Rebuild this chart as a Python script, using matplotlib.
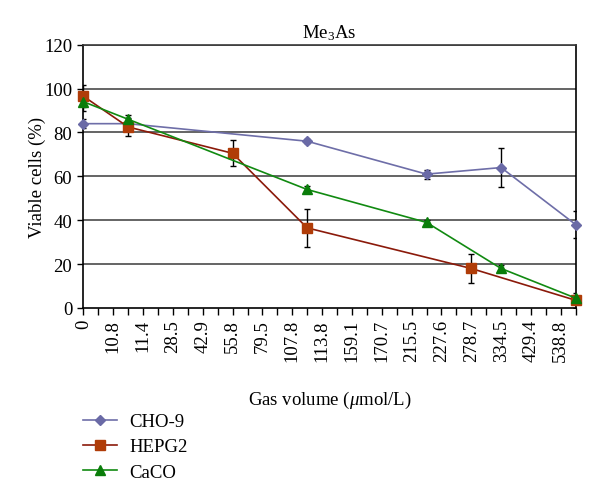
import matplotlib
matplotlib.use("Agg")
import matplotlib.pyplot as plt
from matplotlib.ticker import MultipleLocator

plt.rcParams['font.family'] = ['Liberation Serif', 'DejaVu Serif']
plt.rcParams['mathtext.fontset'] = 'custom'
plt.rcParams['mathtext.rm'] = 'Liberation Serif'
plt.rcParams['mathtext.it'] = 'Liberation Serif:italic'

# category labels on the x axis (one every second tick)
x_labels = ["0", "10.8", "11.4", "28.5", "42.9", "55.8", "79.5", "107.8", "113.8",
            "159.1", "170.7", "215.5", "227.6", "278.7", "334.5", "429.4", "538.8"]

# positions along the axis (in label units) and values
cho_x = [0, 1.5, 7.5, 11.5, 14, 16.5]
cho_y = [84, 84, 76, 61, 64, 38]
cho_err = [2, 1, 1, 2, 9, 6]

hep_x = [0, 1.5, 5, 7.5, 13, 16.5]
hep_y = [96.5, 82.5, 70.5, 36.5, 18, 3.5]
hep_err = [5, 4, 6, 8.5, 6.5, 3.5]

caco_x = [0, 1.5, 7.5, 11.5, 14, 16.5]
caco_y = [94, 86, 54, 39, 18, 4.5]
caco_err = [4, 2, 1.5, 1, 1.5, 1.5]

fig = plt.figure(figsize=(6, 5.02), dpi=100)
ax = fig.add_axes([0.139, 0.3845, 0.8205, 0.5245])

for y in range(20, 121, 20):
    ax.axhline(y, color='#3a3a3a', lw=1.1, zorder=1)

fs = 13.5

def series(x, y, err, line_col, mark_col, marker, ms, label):
    ax.errorbar(x, y, yerr=err, fmt='none', ecolor='black', elinewidth=1.0,
                capsize=2.2, capthick=1.0, zorder=3)
    ax.plot(x, y, color=line_col, lw=1.2, marker=marker, ms=ms,
            markerfacecolor=mark_col, markeredgecolor=mark_col,
            label=label, zorder=4, clip_on=False)

series(cho_x, cho_y, cho_err, '#6e6ea8', '#6a6aa6', 'D', 5.5, 'CHO-9')
series(hep_x, hep_y, hep_err, '#8b1a0a', '#b03c08', 's', 6.5, 'HEPG2')
series(caco_x, caco_y, caco_err, '#118a11', '#0a7d0a', '^', 7.5, 'CaCO')

ax.set_xlim(0, 16.5)
ax.set_ylim(0, 120)
ax.set_xticks(range(len(x_labels)))
ax.set_xticklabels(x_labels, rotation=90, fontsize=fs)
ax.xaxis.set_minor_locator(MultipleLocator(0.5))
ax.tick_params(axis='x', which='both', direction='out', length=5, width=1.0, pad=3)
ax.set_yticks(range(0, 121, 20))
ax.tick_params(axis='y', direction='out', length=4, width=1.0, labelsize=fs, pad=4)

for s in ax.spines.values():
    s.set_color('black')
    s.set_linewidth(1.2)
ax.spines['top'].set_color('#3a3a3a')

ax.set_title(r'Me$_{3}$As', fontsize=fs, pad=5)
ax.set_ylabel('Viable cells (%)', fontsize=fs, labelpad=-1)
ax.set_xlabel(r'Gas volume ($\mu$mol/L)', fontsize=fs, labelpad=20)

fig.legend(loc='upper left', bbox_to_anchor=(0.138, 1 - 414 / 502), frameon=False,
           fontsize=fs, handlelength=1.8, handletextpad=0.7, labelspacing=0.43,
           borderpad=0, borderaxespad=0)

fig.savefig('out.png', dpi=100)
